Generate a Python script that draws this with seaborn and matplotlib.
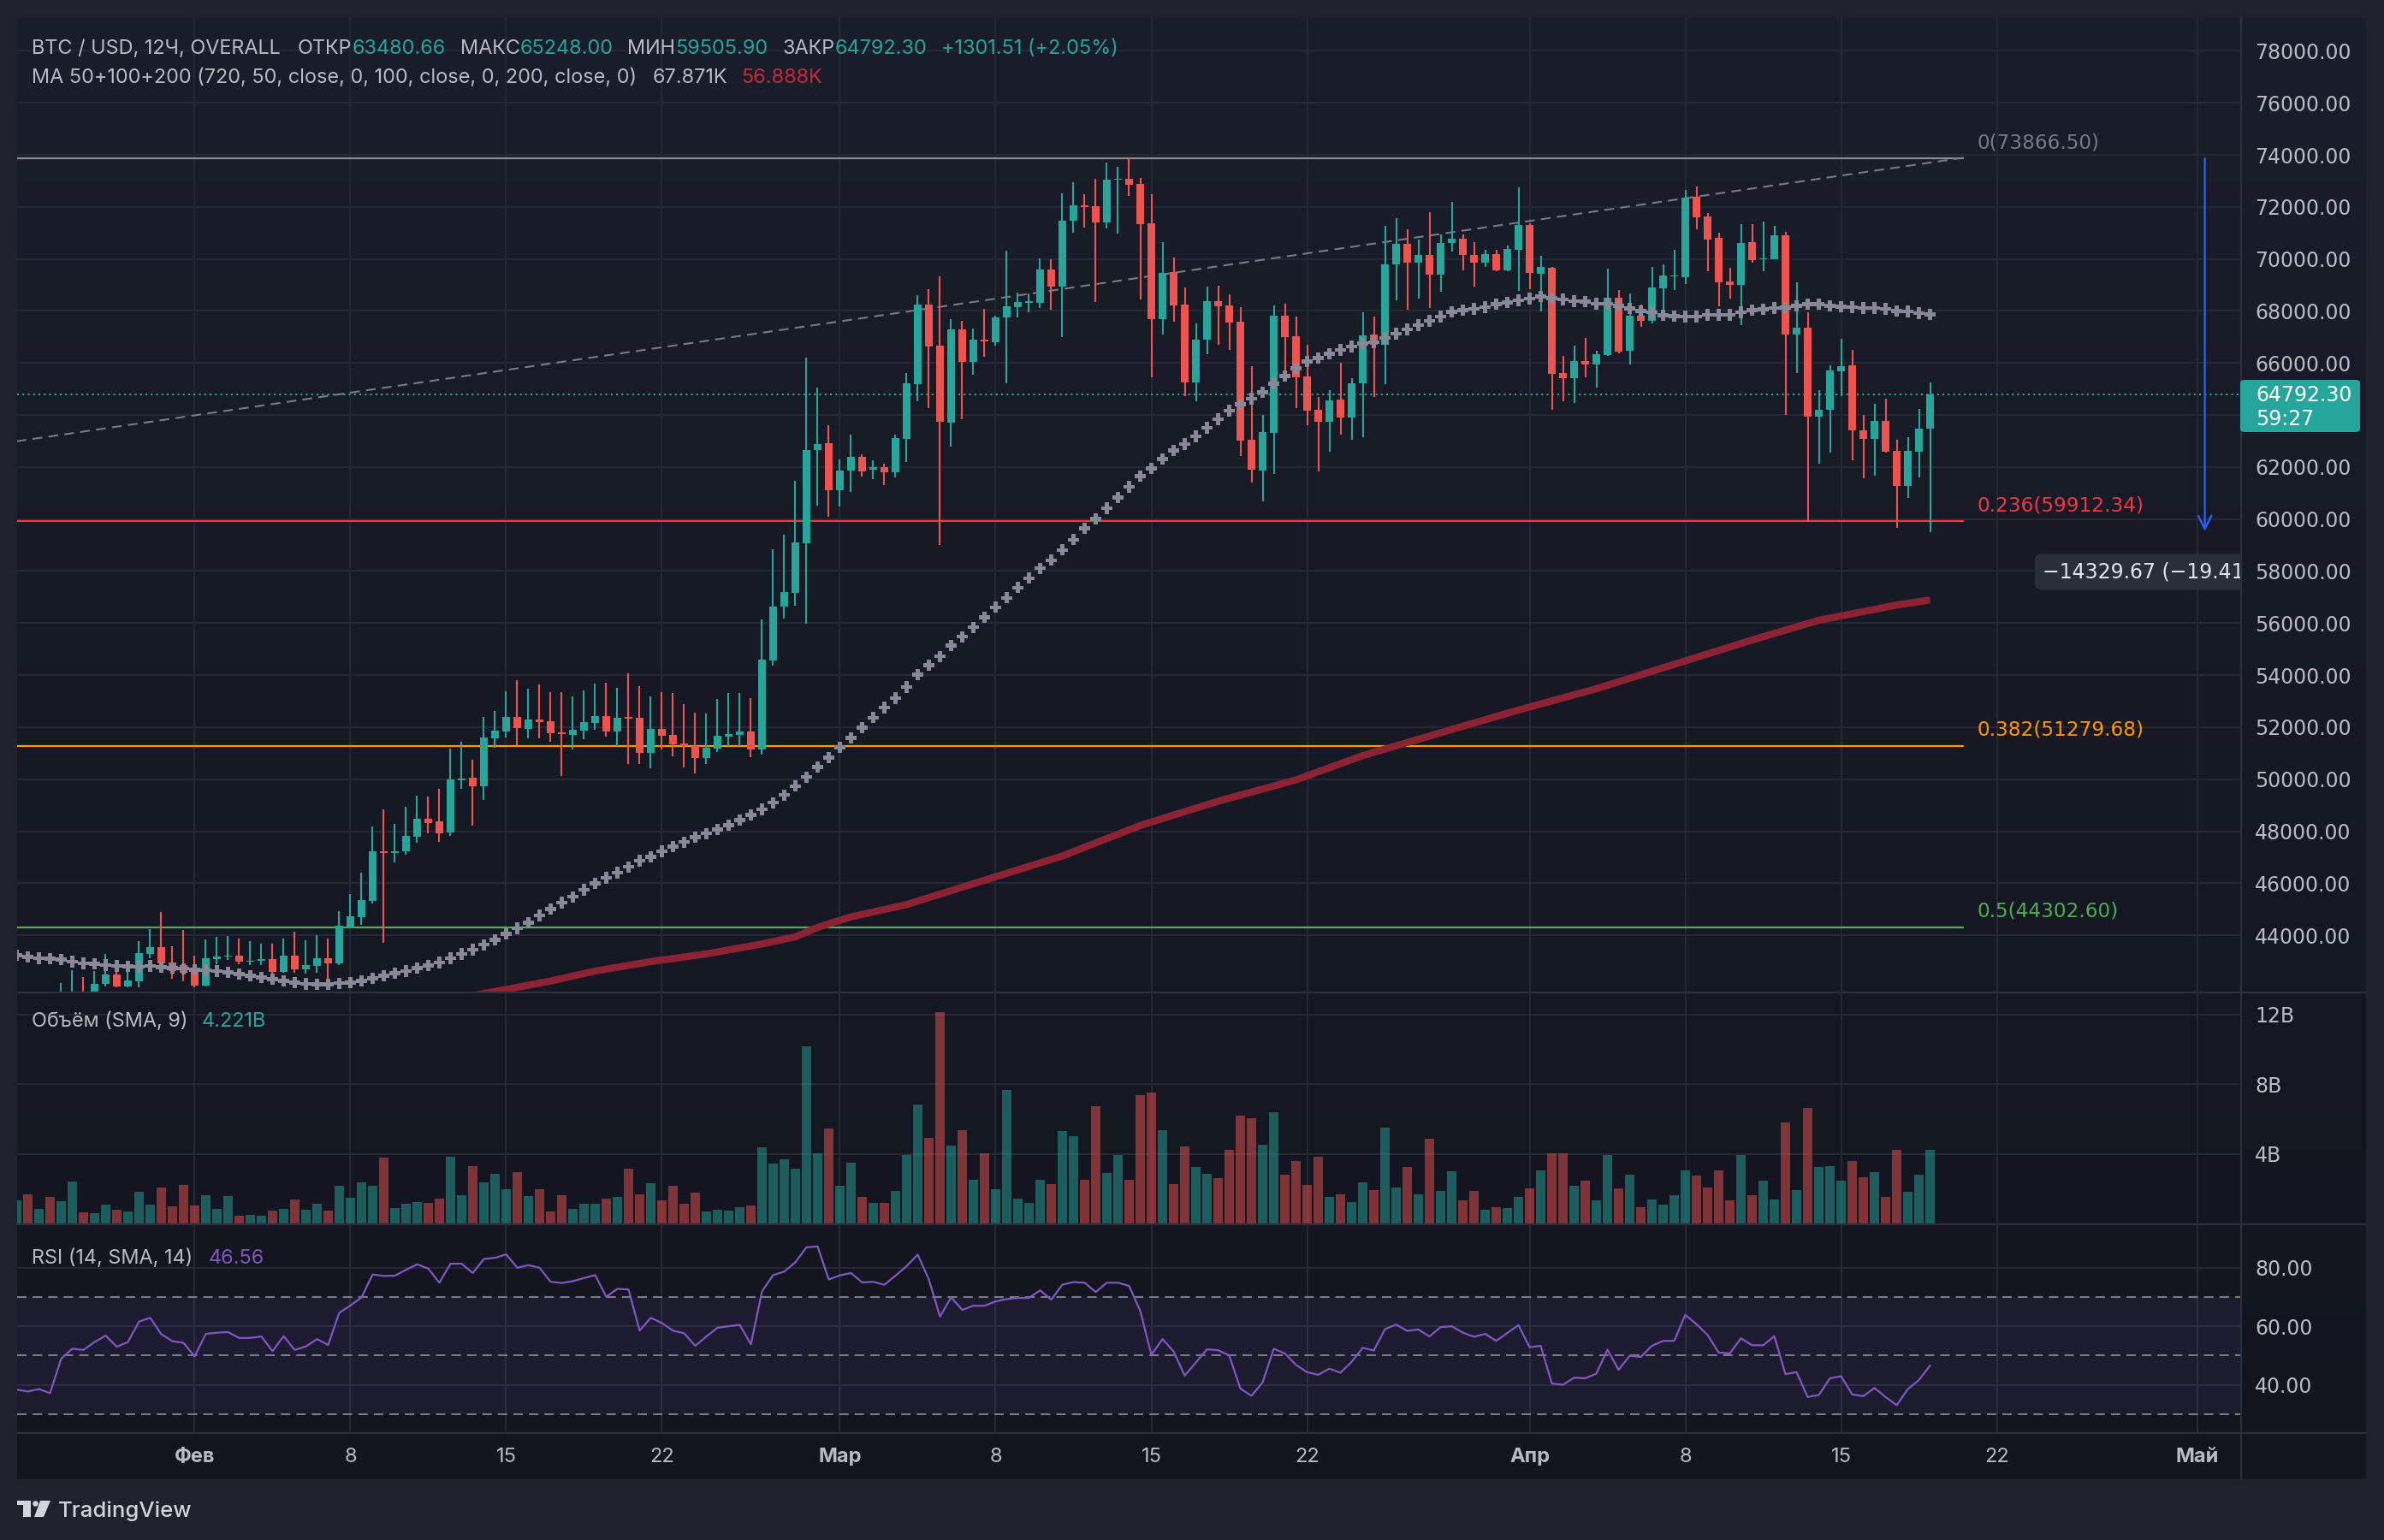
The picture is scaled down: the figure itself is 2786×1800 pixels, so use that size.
import numpy as np
import pandas as pd
import matplotlib
matplotlib.use("Agg")
import matplotlib.pyplot as plt
import matplotlib.transforms as mtransforms
from matplotlib.patches import Rectangle, FancyBboxPatch, Polygon, Ellipse
from matplotlib.lines import Line2D
import seaborn as sns

# ── Canvas / colours ─────────────────────────────────────────────────────────
W, H, DPI = 2786, 1800, 100
FRAME = "#1f222c"
BG_TOP, BG_BOTTOM = "#1a1e2a", "#12151e"
GRID = "#242835"
SEP = "#2b2f3b"
TXT = "#b8bbc4"
UP, DOWN = "#26a69a", "#ef5350"
MA50_C = "#878a96"
MA200_C = "#8c2332"
RSI_C = "#7e57c2"
LEGEND_PT = 16.9

# ── Data (12h candles, first one 2024-01-24 00:00) ───────────────────────────
start = pd.Timestamp("2024-01-24 00:00")

opens = [39900, 40150, 39850, 40050, 39900, 41500, 41750, 41600, 42131, 42492,
         42021, 42240, 43282, 43556, 42953, 42843, 42602, 42054, 43084, 43172,
         43227, 42986, 43008, 43095, 42591, 43227, 42701, 42821, 43117, 42920,
         44323, 44707, 45332, 47228, 47174, 47228, 47799, 48490, 48380, 47963,
         49969, 50057, 49728, 51581, 51844, 52392, 51943, 52294, 52217, 51800,
         51712, 51866, 52162, 52425, 51833, 52381, 52359, 51011, 51932, 51701,
         51373, 51285, 50825, 51186, 51636, 51712, 51833, 51150, 54565, 56627,
         57161, 59081, 62638, 62906, 61112, 61867, 62386, 61883, 61993, 61788,
         63079, 65188, 68240, 66667, 63708, 67296, 66037, 66887, 66808, 67737,
         68162, 68303, 68303, 69594, 68933, 71466, 72060, 72027, 71402, 73046,
         73079, 72882, 71369, 67697, 69484, 68245, 65263, 66885, 68365, 68201,
         67587, 63048, 61864, 63311, 67817, 67017, 65482, 64188, 63750, 64583,
         63914, 65230, 67094, 66688, 69779, 70569, 69867, 70141, 69407, 70624,
         70766, 70141, 69845, 70174, 69571, 70361, 71292, 69440, 69648, 65614,
         65427, 66063, 65953, 66304, 68497, 66469, 67817, 67620, 68881, 69319,
         69297, 72378, 71621, 70810, 69122, 69012, 70635, 69977, 69988, 70898,
         67105, 67346, 63925, 64188, 65668, 65898, 63420, 63070, 63783, 62610,
         61261, 62599, 63480.66]
highs = [40400, 40300, 40250, 40200, 42164, 42657, 42393, 42624, 43282, 43008,
         42624, 43775, 44236, 44893, 43578, 44214, 43205, 43830, 43940, 43962,
         43885, 43775, 43666, 43687, 43863, 44137, 43808, 43994, 43885, 44926,
         45584, 46406, 48182, 48840, 48270, 48928, 49367, 49334, 49640, 51175,
         51450, 50737, 52392, 52623, 53390, 53807, 53478, 53642, 53346, 53335,
         53182, 53412, 53686, 53708, 53511, 54059, 53576, 53182, 53346, 53313,
         52886, 52557, 52524, 53083, 53302, 53302, 53116, 56154, 58829, 59396,
         61458, 66210, 65046, 63598, 62292, 63236, 62481, 62260, 62118, 63236,
         65628, 68602, 68838, 69325, 67690, 67611, 67328, 68083, 67815, 70318,
         68697, 68665, 70019, 69987, 72537, 72946, 72476, 73068, 73704, 73540,
         73866.5, 73101, 72476, 70635, 70054, 68903, 67510, 68935, 68968, 68639,
         68146, 65888, 64002, 68201, 68278, 67784, 66688, 64693, 64956, 66008,
         65405, 67949, 67784, 71260, 71567, 71128, 70744, 71786, 70942, 72191,
         70942, 70635, 70350, 70350, 70503, 72740, 71380, 70108, 69703, 66271,
         66666, 66962, 66469, 69626, 68804, 68661, 68245, 69681, 69791, 70339,
         72652, 72772, 71753, 70996, 69648, 71325, 71325, 71424, 71260, 71040,
         69100, 67949, 64956, 65898, 66929, 66501, 63998, 64419, 64627, 63037,
         63147, 64221, 65248.00]
lows = [39500, 39700, 39600, 39750, 39800, 41200, 41500, 41500, 42021, 41999,
        41999, 41999, 43117, 42569, 42328, 42240, 41999, 42021, 42898, 43063,
        42876, 42865, 42843, 42459, 42547, 42569, 42514, 42569, 41999, 42865,
        44268, 44411, 45222, 43720, 46812, 47108, 47557, 47919, 47590, 47832,
        49640, 48215, 49202, 51197, 51603, 51318, 51559, 51581, 51450, 50134,
        51153, 51537, 51910, 51647, 51285, 50594, 50594, 50430, 51153, 50890,
        50463, 50233, 50594, 51033, 51285, 51285, 50846, 50945, 54376, 56170,
        56658, 55981, 60513, 60104, 60482, 61033, 61631, 61536, 61300, 61615,
        62197, 64527, 64259, 59019, 62780, 63850, 65549, 66242, 66682, 65203,
        67737, 67941, 68099, 68052, 66997, 71010, 71205, 68354, 71172, 70985,
        72422, 68442, 65460, 67105, 67598, 64715, 64518, 66337, 66710, 66501,
        62434, 61404, 60680, 61733, 65668, 64276, 63618, 61842, 62577, 63257,
        63037, 63158, 64682, 65175, 68420, 68058, 68475, 68113, 68749, 70295,
        69571, 68935, 69703, 69538, 69538, 68771, 68848, 67982, 64200, 64528,
        64463, 65449, 65066, 66271, 66359, 65942, 67401, 67532, 67784, 68804,
        69034, 71150, 69538, 68190, 68475, 67455, 69867, 69538, 69988, 63998,
        65614, 59891, 62138, 62544, 64715, 62270, 61557, 61678, 62544, 59649,
        60801, 61590, 59505.90]
closes = [40150, 39850, 40050, 39900, 41500, 41750, 41600, 42131, 42492, 42021,
          42262, 43315, 43556, 42920, 42624, 42569, 42076, 43117, 43172, 43227,
          42986, 43030, 43095, 42602, 43227, 42701, 42843, 43117, 42931, 44378,
          44729, 45365, 47228, 47174, 47228, 47832, 48490, 48325, 47919, 49991,
          50024, 49728, 51603, 51866, 52392, 51975, 52294, 52195, 51778, 51734,
          51899, 52195, 52436, 51833, 52359, 52326, 51011, 51932, 51668, 51340,
          51285, 50825, 51208, 51668, 51734, 51833, 51153, 54596, 56627, 57193,
          59097, 62654, 62890, 61112, 61867, 62386, 61820, 61993, 61804, 63110,
          65219, 68240, 66635, 63740, 67296, 66037, 66887, 66840, 67753, 68177,
          68350, 68366, 69594, 68933, 71466, 72064, 72005, 71402, 73046, 73090,
          72860, 71347, 67697, 69462, 68223, 65263, 66885, 68365, 68190, 67565,
          63015, 61897, 63344, 67817, 66995, 65449, 64166, 63750, 64550, 63914,
          65208, 67050, 66688, 69779, 70569, 69867, 70141, 69407, 70613, 70766,
          70141, 69845, 70174, 69571, 70383, 71292, 69473, 69681, 65592, 65427,
          66063, 65953, 66326, 68497, 66446, 67817, 67620, 68903, 69352, 69374,
          72356, 71599, 70744, 69100, 69012, 70613, 69955, 70010, 70898, 67105,
          67346, 63947, 64188, 65701, 65865, 63420, 63092, 63783, 62577, 61261,
          62610, 63475, 64792.30]

volume_b = [1.33, 1.68, 0.84, 1.53, 1.28, 2.42, 0.64, 0.59, 1.09, 0.79,
            0.69, 1.83, 1.09, 2.07, 0.99, 2.22, 1.04, 1.63, 0.84, 1.58,
            0.44, 0.49, 0.44, 0.74, 0.84, 1.38, 0.79, 1.14, 0.74, 2.17,
            1.48, 2.37, 2.17, 3.80, 0.89, 1.14, 1.23, 1.19, 1.43, 3.85,
            1.63, 3.31, 2.37, 2.86, 1.98, 2.96, 1.58, 1.98, 0.69, 1.63,
            0.84, 1.14, 1.14, 1.43, 1.53, 3.16, 1.68, 2.32, 1.33, 2.17,
            1.14, 1.78, 0.69, 0.79, 0.74, 0.94, 1.04, 4.35, 3.46, 3.70,
            3.16, 10.17, 4.05, 5.43, 2.17, 3.51, 1.53, 1.19, 1.19, 1.88,
            3.95, 6.81, 4.89, 12.15, 4.49, 5.33, 2.52, 4.05, 1.98, 7.65,
            1.43, 1.19, 2.52, 2.27, 5.28, 4.99, 2.52, 6.72, 2.91, 3.95,
            2.52, 7.36, 7.51, 5.33, 2.27, 4.40, 3.26, 2.86, 2.62, 4.20,
            6.17, 6.02, 4.54, 6.37, 2.81, 3.60, 2.22, 3.85, 1.53, 1.68,
            1.23, 2.37, 1.93, 5.48, 2.07, 3.26, 1.68, 4.84, 1.88, 3.01,
            1.33, 1.88, 0.79, 0.94, 0.89, 1.53, 2.02, 3.06, 4.05, 4.05,
            2.17, 2.47, 1.33, 3.95, 2.02, 2.81, 0.94, 1.38, 1.09, 1.63,
            3.06, 2.77, 2.07, 3.06, 1.33, 3.95, 1.63, 2.47, 1.38, 5.78,
            1.93, 6.62, 3.26, 3.31, 2.47, 3.56, 2.67, 2.96, 1.53, 4.20,
            1.83, 2.81, 4.22]

rsi = [38.3, 37.7, 38.5, 37.1, 48.9, 52.3, 51.9, 54.6, 56.8, 53.0,
       54.6, 61.6, 62.9, 57.3, 54.9, 54.3, 49.7, 57.4, 57.8, 58.0,
       56.0, 56.0, 56.5, 51.5, 56.6, 51.9, 53.1, 55.6, 53.6, 64.6,
       67.1, 69.9, 77.7, 77.2, 77.3, 79.3, 81.2, 79.7, 74.9, 81.4,
       81.4, 78.2, 83.0, 83.4, 84.6, 80.0, 80.9, 80.0, 75.2, 74.8,
       75.4, 76.5, 77.5, 70.1, 72.8, 72.6, 58.5, 62.9, 61.1, 58.5,
       57.6, 53.3, 56.5, 59.5, 60.0, 60.5, 53.8, 71.9, 77.5, 78.7,
       81.9, 87.0, 87.3, 76.0, 77.4, 78.2, 75.0, 75.2, 74.2, 77.3,
       80.6, 84.5, 76.0, 63.3, 69.9, 65.6, 67.0, 67.0, 68.5, 69.3,
       69.7, 69.7, 72.3, 69.1, 74.2, 75.1, 74.9, 71.7, 74.9, 74.9,
       73.8, 65.3, 50.2, 55.6, 51.4, 43.1, 47.6, 52.1, 51.8, 50.0,
       38.7, 36.2, 40.8, 52.3, 50.7, 46.8, 44.3, 43.4, 45.5, 44.1,
       47.8, 52.6, 51.7, 59.0, 60.6, 58.4, 58.9, 56.5, 59.7, 60.0,
       57.8, 56.4, 57.4, 55.0, 57.7, 60.4, 52.8, 53.3, 40.4, 40.0,
       42.4, 42.2, 43.8, 52.0, 45.1, 49.9, 49.5, 53.3, 55.0, 55.0,
       63.9, 60.7, 57.0, 51.0, 50.7, 55.9, 53.5, 53.5, 56.6, 43.6,
       44.3, 35.8, 36.5, 42.2, 42.9, 36.7, 36.1, 38.9, 35.8, 33.0,
       38.5, 41.6, 46.56]

ma50 = [43227, 43172, 43117, 43095, 43063, 42986, 42920, 42898, 42854, 42821,
        42810, 42788, 42821, 42766, 42734, 42712, 42679, 42657, 42624, 42569,
        42514, 42438, 42383, 42317, 42240, 42185, 42131, 42109, 42109, 42153,
        42185, 42240, 42350, 42438, 42547, 42624, 42734, 42843, 42953, 43117,
        43282, 43447, 43633, 43830, 44050, 44269, 44488, 44762, 45003, 45255,
        45475, 45749, 45990, 46209, 46407, 46626, 46867, 47010, 47229, 47415,
        47580, 47777, 47909, 48073, 48237, 48434, 48621, 48840, 49093, 49389,
        49734, 50080, 50473, 50835, 51229, 51590, 51984, 52362, 52755, 53117,
        53542, 54014, 54376, 54722, 55132, 55478, 55840, 56218, 56611, 56973,
        57366, 57728, 58106, 58420, 58814, 59207, 59650, 60000, 60417, 60823,
        61239, 61645, 61941, 62303, 62632, 62884, 63180, 63509, 63838, 64166,
        64418, 64627, 64879, 65208, 65504, 65789, 66052, 66195, 66359, 66501,
        66633, 66743, 66797, 66962, 67126, 67291, 67455, 67620, 67784, 67971,
        68036, 68080, 68146, 68256, 68332, 68409, 68475, 68552, 68497, 68442,
        68376, 68354, 68278, 68278, 68201, 68091, 68004, 67949, 67839, 67806,
        67784, 67784, 67850, 67850, 67850, 67949, 68036, 68058, 68113, 68135,
        68190, 68256, 68256, 68201, 68168, 68146, 68113, 68113, 68080, 68004,
        67982, 67916, 67871]

ma200_idx = [40, 45, 48, 52, 57, 62, 67, 70, 72, 75, 80, 94, 101, 108, 115,
             121, 128, 135, 142, 149, 156, 162, 169, 172]
ma200_val = [41600, 41999, 42240, 42624, 42986, 43282, 43666, 43940, 44302,
             44707, 45179, 47047, 48219, 49152, 49971, 50906, 51784, 52658,
             53476, 54414, 55349, 56108, 56694, 56888]

fib_levels = [73866.50, 59912.34, 51279.68, 44302.60]
fib_names = ["0", "0.236", "0.382", "0.5"]
fib_colors = ["#8a8d96", "#f23645", "#ff9800", "#4caf50"]
fib_text_colors = ["#787b86", "#f23645", "#ff9800", "#4caf50"]
fib_end = 175

trend_k = [0, 175]
trend_price = [62990, 73889]

measure_k = 196.7
measure_change = -14329.67
measure_pct = -19.41

tick_dates = ["2024-02-01", "2024-02-08", "2024-02-15", "2024-02-22",
              "2024-03-01", "2024-03-08", "2024-03-15", "2024-03-22",
              "2024-04-01", "2024-04-08", "2024-04-15", "2024-04-22",
              "2024-05-01"]
tick_labels = ["Фев", "8", "15", "22", "Мар", "8", "15", "22", "Апр", "8",
               "15", "22", "Май"]
month_labels = {"Фев", "Мар", "Апр", "Май"}

price_ticks = list(range(44000, 78001, 2000))
vol_ticks = [4, 8, 12]
rsi_ticks = [40, 60, 80]

# ── Style ────────────────────────────────────────────────────────────────────
sns.set_theme(style="dark")
plt.rcParams["font.family"] = ["Inter", "DejaVu Sans"]
NUM_FONT = "DejaVu Sans"

opens, highs, lows, closes = map(np.asarray, (opens, highs, lows, closes))
n = len(closes)
x = np.arange(n)
cols = [UP if c >= o else DOWN for o, c in zip(opens, closes)]
tick_pos = ((pd.to_datetime(tick_dates) - start) / pd.Timedelta(hours=12)).to_numpy()
XL = (0.04, 199.96)

fig = plt.figure(figsize=(W / DPI, H / DPI), dpi=DPI, facecolor=FRAME)


def px_axes(left, top, right, bottom, **kw):
    return fig.add_axes([left / W, 1 - bottom / H, (right - left) / W, (bottom - top) / H], **kw)


def fpt(xp, yp):
    return xp / W, 1 - yp / H


# gradient background of the chart area
bg = px_axes(20, 20, 2765, 1729, zorder=-5)
grad = np.linspace(0, 1, 256)[:, None]
top_rgb = np.array(matplotlib.colors.to_rgb(BG_TOP))
bot_rgb = np.array(matplotlib.colors.to_rgb(BG_BOTTOM))
img = top_rgb[None, None, :] * (1 - grad[..., None]) + bot_rgb[None, None, :] * grad[..., None]
bg.imshow(img, aspect="auto", extent=(0, 1, 0, 1))
bg.set_axis_off()

ax_p = px_axes(20, 20, 2619, 1160)
ax_v = px_axes(20, 1160, 2619, 1431)
ax_r = px_axes(20, 1431, 2619, 1675)

for ax in (ax_p, ax_v, ax_r):
    ax.set_facecolor("none")
    for s in ax.spines.values():
        s.set_visible(False)
    ax.set_xlim(*XL)
    ax.set_xticks(tick_pos)
    ax.grid(axis="x", color=GRID, linewidth=1.5)
    ax.grid(axis="y", color=GRID, linewidth=1.5)
    ax.yaxis.tick_right()
    ax.tick_params(axis="y", length=0, pad=11.5, labelsize=17, labelcolor=TXT)
    ax.tick_params(axis="x", length=0)
    ax.set_axisbelow(True)

ax_p.tick_params(axis="x", labelbottom=False)
ax_v.tick_params(axis="x", labelbottom=False)

# ── Price panel ──────────────────────────────────────────────────────────────
ax_p.set_ylim(41801, 79296)
ax_p.set_yticks(price_ticks)
ax_p.set_yticklabels(["" if v == 64000 else f"{v:.2f}" for v in price_ticks], family=NUM_FONT)

for lvl, col in zip(fib_levels, fib_colors):
    ax_p.hlines(lvl, -1, fib_end, color=col, linewidth=1.6, zorder=2)
lab_tr = mtransforms.offset_copy(ax_p.transData, fig=fig, x=0, y=7, units="dots")
for lvl, nm, col in zip(fib_levels, fib_names, fib_text_colors):
    ax_p.text(fib_end + 1.2, lvl, f"{nm}({lvl:.2f})", color=col, fontsize=16.7,
              family=NUM_FONT, va="bottom", ha="left", transform=lab_tr)

ax_p.plot(trend_k, trend_price, color="#787b86", linewidth=1.5,
          linestyle=(0, (5.5, 3.5)), zorder=2)
ax_p.axhline(closes[-1], color=UP, linewidth=1.5, linestyle=(0, (1, 2)), zorder=2)

sns.lineplot(x=ma200_idx, y=ma200_val, color=MA200_C, linewidth=6, ax=ax_p,
             zorder=2, solid_capstyle="butt")

ax_p.vlines(x, lows, highs, colors=cols, linewidth=1.5, zorder=3)
body_lo = np.minimum(opens, closes)
body_h = np.maximum(np.abs(closes - opens), 45)
ax_p.bar(x, body_h, bottom=body_lo, width=0.76, color=cols, linewidth=0, zorder=3)

sns.scatterplot(x=x, y=ma50, marker="P", s=90, color=MA50_C, edgecolor="none",
                linewidth=0, ax=ax_p, zorder=4, legend=False)

# measure arrow + label (the label runs under the price scale and is cut there)
m_top = fib_levels[0]
m_bot = m_top + measure_change
ax_p.annotate("", xy=(measure_k, m_bot), xytext=(measure_k, m_top),
              arrowprops=dict(arrowstyle="->", color="#2962ff", lw=1.6,
                              mutation_scale=28, shrinkA=0, shrinkB=0), zorder=5)
ax_p.text(182.1, 57967, f"−{abs(measure_change):.2f} (−{abs(measure_pct):.2f}%)",
          color="#e0e3eb", fontsize=17, family=NUM_FONT, va="center", ha="left",
          clip_on=True, zorder=6,
          bbox=dict(boxstyle="round,pad=0.38,rounding_size=0.35", fc="#2a2e39", ec="none"))

# ── Volume panel ─────────────────────────────────────────────────────────────
ax_v.set_ylim(-0.05, 13.26)
ax_v.bar(x, volume_b, width=0.82, color=cols, alpha=0.5, linewidth=0, zorder=3)
ax_v.set_yticks(vol_ticks)
ax_v.set_yticklabels([f"{v}B" for v in vol_ticks], family=NUM_FONT)

# ── RSI panel ────────────────────────────────────────────────────────────────
ax_r.set_ylim(23.47, 94.87)
ax_r.axhspan(30, 70, color=RSI_C, alpha=0.1, linewidth=0, zorder=1)
for lvl in (30, 50, 70):
    ax_r.axhline(lvl, color="#787b86", linewidth=1.5, linestyle=(0, (5.3, 3.4)), zorder=2)
sns.lineplot(x=x, y=rsi, color=RSI_C, linewidth=1.6, ax=ax_r, zorder=3)
ax_r.set_yticks(rsi_ticks)
ax_r.set_yticklabels([f"{v:.2f}" for v in rsi_ticks], family=NUM_FONT)
ax_r.set_xticks(tick_pos)
ax_r.set_xticklabels(tick_labels)
ax_r.tick_params(axis="x", pad=12, labelsize=17, labelcolor=TXT)
for lab in ax_r.get_xticklabels():
    if lab.get_text() in month_labels:
        lab.set_fontweight("bold")

for ax in (ax_p, ax_v, ax_r):
    ax.set_xlabel("")
    ax.set_ylabel("")

# ── Separators ───────────────────────────────────────────────────────────────
for yp in (1160, 1431, 1675):
    fig.add_artist(Line2D([20 / W, 2765 / W], [1 - yp / H] * 2, color=SEP, linewidth=1.6))
fig.add_artist(Line2D([2619 / W] * 2, [1 - 20 / H, 1 - 1729 / H], color=SEP, linewidth=1.6))

# ── Last price tag ───────────────────────────────────────────────────────────
fig.add_artist(FancyBboxPatch(fpt(2618, 505), 140 / W, 61 / H,
                              boxstyle="round,pad=0,rounding_size=0.002",
                              transform=fig.transFigure, fc=UP, ec="none", zorder=5))
fig.text(*fpt(2636, 462), f"{closes[-1]:.2f}", color="white", fontsize=17,
         family=NUM_FONT, va="center", ha="left", zorder=6)
fig.text(*fpt(2636, 490), "59:27", color="white", fontsize=17,
         family=NUM_FONT, va="center", ha="left", zorder=6)

# ── Legends (coloured text runs) ─────────────────────────────────────────────
renderer = fig.canvas.get_renderer()


def text_run(x_px, y_px, parts, size=LEGEND_PT):
    for s, c, gap in parts:
        t = fig.text(*fpt(x_px, y_px), s, color=c, fontsize=size, va="baseline", ha="left")
        x_px += t.get_window_extent(renderer).width + gap


text_run(37, 63, [("BTC / USD, 12Ч, OVERALL", TXT, 20),
                  ("ОТКР", TXT, 0), (f"{opens[-1]:.2f}", UP, 17),
                  ("МАКС", TXT, 0), (f"{highs[-1]:.2f}", UP, 17),
                  ("МИН", TXT, 0), (f"{lows[-1]:.2f}", UP, 17),
                  ("ЗАКР", TXT, 0), (f"{closes[-1]:.2f}", UP, 16),
                  ("+1301.51 (+2.05%)", UP, 0)])
text_run(37, 97, [("MA 50+100+200 (720, 50, close, 0, 100, close, 0, 200, close, 0)", TXT, 18),
                  (f"{ma50[-1] / 1000:.3f}K", TXT, 16),
                  (f"{ma200_val[-1] / 1000:.3f}K", "#c62a3a", 0)])
text_run(37, 1200, [("Объём (SMA, 9)", TXT, 16), ("4.221B", UP, 0)])
text_run(37, 1477, [("RSI (14, SMA, 14)", TXT, 18), (f"{rsi[-1]:.2f}", RSI_C, 0)])

# ── TradingView logo ─────────────────────────────────────────────────────────
LOGO = "#d1d4dc"
fig.add_artist(Rectangle(fpt(20, 1759), 16 / W, 5 / H, transform=fig.transFigure, fc=LOGO, ec="none"))
fig.add_artist(Rectangle(fpt(27, 1773), 9 / W, 19 / H, transform=fig.transFigure, fc=LOGO, ec="none"))
fig.add_artist(Ellipse(fpt(41.5, 1757.5), 6.5 / W, 6.5 / H, transform=fig.transFigure, fc=LOGO, ec="none"))
fig.add_artist(Polygon([fpt(47, 1754), fpt(59, 1754), fpt(51, 1773), fpt(40, 1773)],
                       closed=True, transform=fig.transFigure, fc=LOGO, ec="none"))
fig.text(*fpt(68, 1773), "TradingView", color=LOGO, fontsize=18.5, fontweight="medium",
         va="baseline", ha="left")

fig.savefig("out.png", dpi=DPI, facecolor=FRAME)
